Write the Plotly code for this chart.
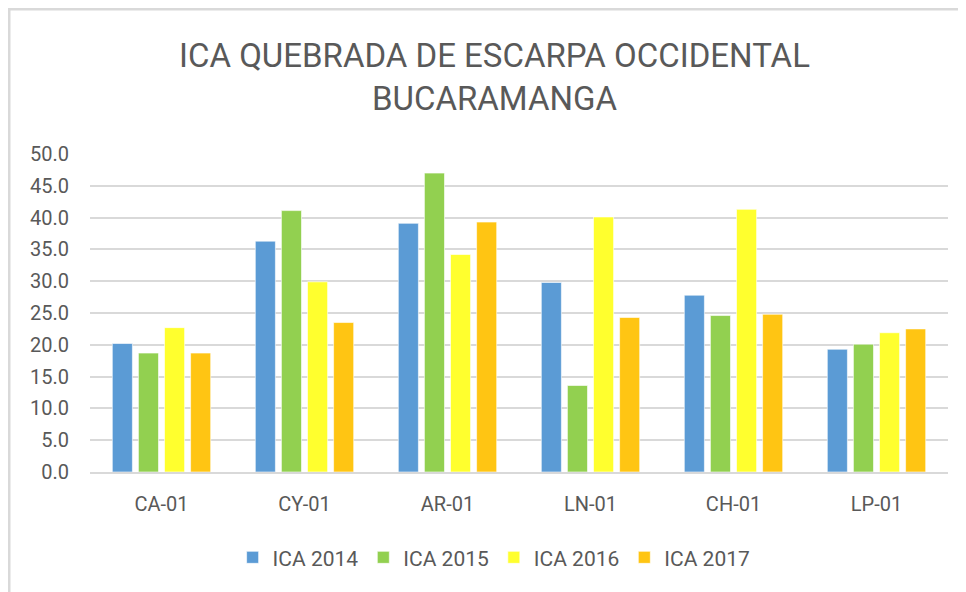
import plotly.graph_objects as go

# DATOS
estaciones = ['CA-01', 'CY-01', 'AR-01', 'LN-01', 'CH-01', 'LP-01']
ica_2014 = [20.2, 36.3, 39.1, 29.8, 27.8, 19.3]
ica_2015 = [18.7, 41.1, 47.0, 13.6, 24.6, 20.1]
ica_2016 = [22.7, 29.9, 34.2, 40.1, 41.3, 21.9]
ica_2017 = [18.7, 23.5, 39.3, 24.3, 24.8, 22.5]

series = [
    ('ICA 2014', ica_2014, '#5B9BD5'),
    ('ICA 2015', ica_2015, '#92D050'),
    ('ICA 2016', ica_2016, '#FFFF2E'),
    ('ICA 2017', ica_2017, '#FFC513'),
]

fuente = 'Roboto, sans-serif'
gris = '#595959'

fig = go.Figure()
for nombre, valores, color in series:
    fig.add_trace(go.Bar(
        x=estaciones, y=valores, name=nombre,
        marker=dict(color=color, line=dict(color='rgba(255,255,255,0.6)', width=1))
    ))

# titulo como anotacion para controlar la posicion
fig.add_annotation(
    text='ICA QUEBRADA DE ESCARPA OCCIDENTAL<br>BUCARAMANGA',
    xref='paper', yref='paper', x=0.471, y=1.2437,
    xanchor='center', yanchor='middle', showarrow=False,
    font=dict(family=fuente, size=33, color=gris)
)

fig.update_layout(
    width=966, height=592,
    margin=dict(l=82, r=26, t=146, b=128, autoexpand=False),
    paper_bgcolor='white', plot_bgcolor='white',
    barmode='group', bargap=0.27, bargroupgap=0.23,
    font=dict(family=fuente, color=gris, size=19),
    legend=dict(
        orientation='h', x=0.471, xanchor='center', y=-0.205, yanchor='top',
        font=dict(size=21, color=gris), itemwidth=30, traceorder='normal'
    ),
    shapes=[dict(
        type='path', xref='paper', yref='paper',
        path='M -0.0944 -0.6 L -0.0944 1.456 L 1.2 1.456',
        line=dict(color='#D9D9D9', width=3)
    )]
)

fig.update_yaxes(
    range=[0, 50], dtick=5, tickformat='.1f',
    showgrid=True, gridcolor='#D9D9D9', gridwidth=2,
    zeroline=False, showline=False, ticks='', ticklabelstandoff=20,
    tickfont=dict(size=20, color=gris)
)
fig.update_xaxes(
    showline=True, linecolor='#D9D9D9', linewidth=2, ticks='',
    ticklabelstandoff=13, tickfont=dict(size=20, color=gris)
)

fig.write_html('out.html')
